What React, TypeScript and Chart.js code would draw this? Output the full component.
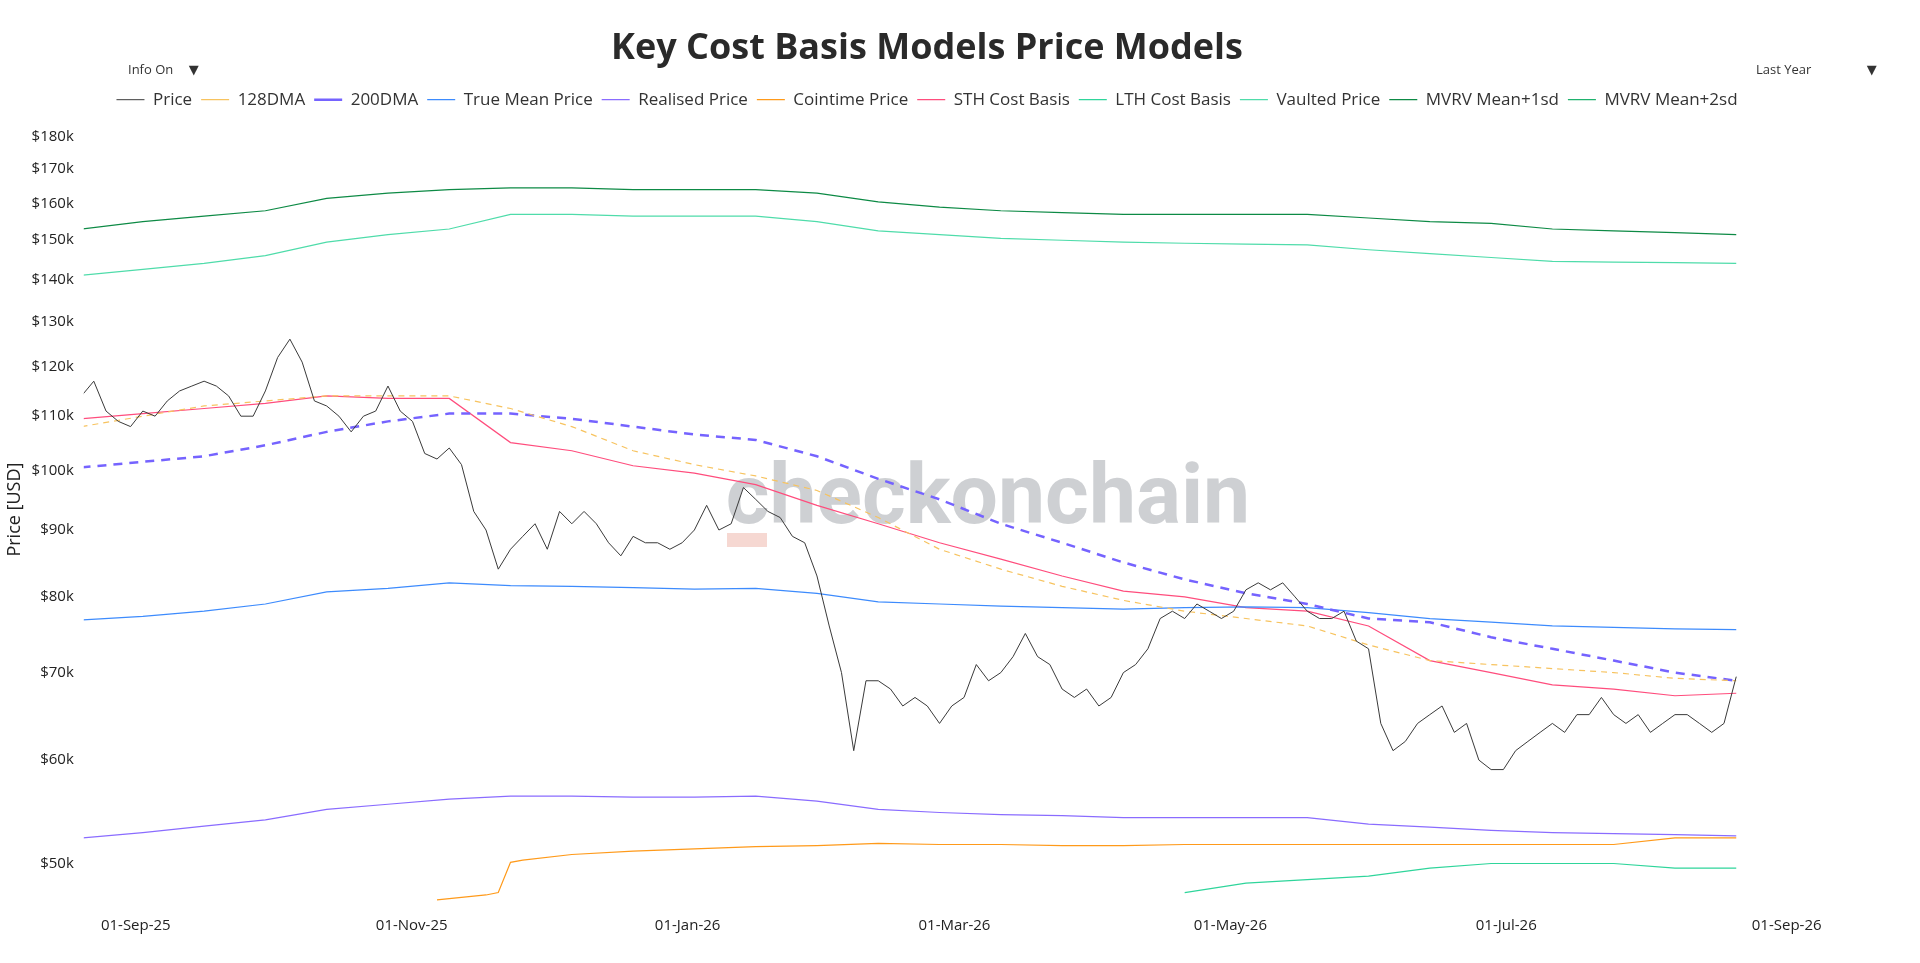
import React, { useEffect, useRef } from "react";
import { Chart, registerables } from "chart.js";
Chart.register(...registerables);

const DAY = 86400000;
const PRICE_START = "2025-08-20";
const PRICE_STEP_DAYS = 2.71;
const MODEL_STEP_DAYS = 13.55;

const priceValues = [114,117,111,109,108,111,110,113,115,116,117,116,114,110,110,115,122,126,121,113,112,110,107,110,111,116,111,109,103,102,104,101,93,90,84,87,89,91,87,93,91,93,91,88,86,89,88,88,87,88,90,94,90,91,97,95,93,92,89,88,83,76,70,61,69,69,68,66,67,66,64,66,67,71,69,70,72,75,72,71,68,67,68,66,67,70,71,73,77,78,77,79,78,77,78,81,82,81,82,80,78,77,77,78,74,73,64,61,62,64,65,66,63,64,60,59,59,61,62,63,64,63,65,65,67,65,64,65,63,64,65,65,64,63,64,69.5];
const dma128 = [108,110,112,113,114,114,114,111.5,108,103.5,101,99,96.5,92,87,84,81.5,79.5,78,77,76,73.5,71.5,71,70.5,70,69.3,69];
const dma200 = [100.5,101.5,102.5,104.5,107,109,110.5,110.5,109.5,108,106.5,105.5,102.5,98.5,95,91,88,85,82.5,80.5,79,77,76.5,74.5,73,71.5,70,69];
const trueMean = [76.8,77.3,78,79,80.7,81.2,82,81.6,81.5,81.3,81.1,81.2,80.5,79.3,79,78.7,78.5,78.3,78.5,78.6,78.5,77.8,77,76.5,76,75.8,75.6,75.5];
const realised = [52.3,52.8,53.4,54,55,55.5,56,56.3,56.3,56.2,56.2,56.3,55.8,55,54.7,54.5,54.4,54.2,54.2,54.2,54.2,53.6,53.3,53,52.8,52.7,52.6,52.5];
// cointime sampled at the price step (starts at sample 29)
const cointime = [46.9,47.0,47.1,47.2,47.3,47.5,50.1,50.3];
const COINTIME_FIRST_SAMPLE = 29;
const cointimeLate = [50.8,51.1,51.3,51.5,51.6,51.8,51.7,51.7,51.6,51.6,51.7,51.7,51.7,51.7,51.7,51.7,51.7,51.7,52.3,52.3];
const COINTIME_LATE_FIRST_MODEL = 8;
const sthCost = [109.5,110.5,111.5,112.5,114,113.5,113.5,105,103.5,100.8,99.5,97.5,94,91,88,85.5,83,80.8,80,78.5,78,76,71.5,70,68.5,68,67.2,67.5];
const lthCost = [null,null,null,null,null,null,null,null,null,null,null,null,null,null,null,null,null,null,47.5,48.3,48.6,48.9,49.6,50,50,50,49.6,49.6];
const vaulted = [141,142.5,144,146,149.5,151.5,153,157,157,156.5,156.5,156.5,155,152.5,151.5,150.5,150,149.5,149.2,149,148.8,147.5,146.5,145.5,144.5,144.3,144.2,144];
const mvrv1 = [153,155,156.5,158,161.5,163,164,164.5,164.5,164,164,164,163,160.5,159,158,157.5,157,157,157,157,156,155,154.5,153,152.5,152,151.5];
const mvrv2: (number | null)[] = [];

const yTicks = [50,60,70,80,90,100,110,120,130,140,150,160,170,180];
const xTickDates = ["2025-09-01","2025-11-01","2026-01-01","2026-03-01","2026-05-01","2026-07-01","2026-09-01"];
const MONTHS = ["Jan","Feb","Mar","Apr","May","Jun","Jul","Aug","Sep","Oct","Nov","Dec"];

const t0 = Date.parse(PRICE_START + "T00:00:00Z");
const series = (vals: (number | null)[], step: number, first = 0) =>
  vals.map((v, i) => ({ x: t0 + (i + first) * step * DAY, y: v == null ? null : v * 1000 }));

const FONT = "'Open Sans', 'DejaVu Sans', sans-serif";

export default function App() {
  const ref = useRef<HTMLCanvasElement>(null);
  useEffect(() => {
    document.body.style.margin = "0";
    const watermark = {
      id: "wm",
      beforeDatasetsDraw(c: any) {
        const ctx = c.ctx;
        ctx.save();
        ctx.fillStyle = "rgba(240,190,180,0.6)";
        ctx.fillRect(727, 533, 40, 14);
        ctx.font = "bold 84px 'Roboto', sans-serif";
        ctx.fillStyle = "rgba(190,192,196,0.75)";
        ctx.textAlign = "center";
        ctx.textBaseline = "middle";
        ctx.fillText("checkonchain", 988, 502);
        ctx.restore();
      },
    };
    const mk = (label: string, data: any, color: string, width: number, dash: number[] = []) => ({
      label, data, borderColor: color, backgroundColor: color, borderWidth: width, borderDash: dash,
      pointRadius: 0, fill: false, tension: 0, spanGaps: false,
    });
    const cointimeData = [
      ...series(cointime, PRICE_STEP_DAYS, COINTIME_FIRST_SAMPLE),
      ...series(cointimeLate, MODEL_STEP_DAYS, COINTIME_LATE_FIRST_MODEL),
    ];
    const chart = new Chart(ref.current!, {
      type: "line",
      data: {
        datasets: [
          mk("Price", series(priceValues, PRICE_STEP_DAYS), "#3a3a3a", 1),
          mk("128DMA", series(dma128, MODEL_STEP_DAYS), "#f7c35f", 1.2, [6, 5]),
          mk("200DMA", series(dma200, MODEL_STEP_DAYS), "#7563ff", 2.5, [9, 7]),
          mk("True Mean Price", series(trueMean, MODEL_STEP_DAYS), "#3d8bfd", 1.2),
          mk("Realised Price", series(realised, MODEL_STEP_DAYS), "#8a6cff", 1.2),
          mk("Cointime Price", cointimeData, "#ff9a1a", 1.2),
          mk("STH Cost Basis", series(sthCost, MODEL_STEP_DAYS), "#ff4d7d", 1.2),
          mk("LTH Cost Basis", series(lthCost, MODEL_STEP_DAYS), "#2fd59b", 1.2),
          mk("Vaulted Price", series(vaulted, MODEL_STEP_DAYS), "#4fdcaa", 1.2),
          mk("MVRV Mean+1sd", series(mvrv1, MODEL_STEP_DAYS), "#0d8a45", 1.2),
          mk("MVRV Mean+2sd", series(mvrv2, MODEL_STEP_DAYS), "#1fb26e", 1.2, [6, 5]),
        ],
      },
      options: {
        responsive: false,
        animation: false,
        layout: { padding: { left: 4, right: 70, top: 0, bottom: 20 } },
        plugins: {
          title: {
            display: true, text: "Key Cost Basis Models Price Models", color: "#2a2a2a",
            font: { family: FONT, size: 36, weight: "bold" }, padding: { top: 27, bottom: 12 },
          },
          legend: {
            display: true,
            labels: {
              usePointStyle: true, pointStyle: "line", pointStyleWidth: 28, color: "#333",
              font: { family: FONT, size: 17 }, padding: 9,
            },
          },
          tooltip: { enabled: false },
        },
        scales: {
          x: {
            type: "linear",
            min: t0 + 0.5 * DAY,
            max: Date.parse("2026-09-15T00:00:00Z"),
            grid: { display: false }, border: { display: false },
            afterBuildTicks: (ax: any) => { ax.ticks = xTickDates.map((d) => ({ value: Date.parse(d + "T00:00:00Z") })); },
            ticks: {
              color: "#222", font: { family: FONT, size: 15 }, maxRotation: 0, padding: 8,
              callback: (v: any) => {
                const d = new Date(v);
                return String(d.getUTCDate()).padStart(2, "0") + "-" + MONTHS[d.getUTCMonth()] + "-" + String(d.getUTCFullYear()).slice(2);
              },
            },
          },
          y: {
            type: "logarithmic",
            min: 46800, max: 186000,
            grid: { display: false }, border: { display: false },
            afterBuildTicks: (ax: any) => { ax.ticks = yTicks.map((v) => ({ value: v * 1000 })); },
            ticks: { color: "#222", font: { family: FONT, size: 15 }, padding: 2, callback: (v: any) => "$" + Math.round(v / 1000) + "k" },
            title: { display: true, text: "Price [USD]", color: "#222", font: { family: FONT, size: 18 }, padding: { top: 0, bottom: 4 } },
          },
        },
      },
      plugins: [watermark],
    } as any);
    return () => chart.destroy();
  }, []);
  return (
    <div style={{ position: "relative", width: 1920, height: 963, background: "#fff" }}>
      <canvas ref={ref} width={1920} height={963} />
      <div style={{ position: "absolute", left: 128, top: 60, fontFamily: FONT, fontSize: 13, color: "#333" }}>Info On <span style={{ marginLeft: 12 }}>▼</span></div>
      <div style={{ position: "absolute", left: 1756, top: 60, fontFamily: FONT, fontSize: 13, color: "#333" }}>Last Year <span style={{ marginLeft: 52 }}>▼</span></div>
    </div>
  );
}
